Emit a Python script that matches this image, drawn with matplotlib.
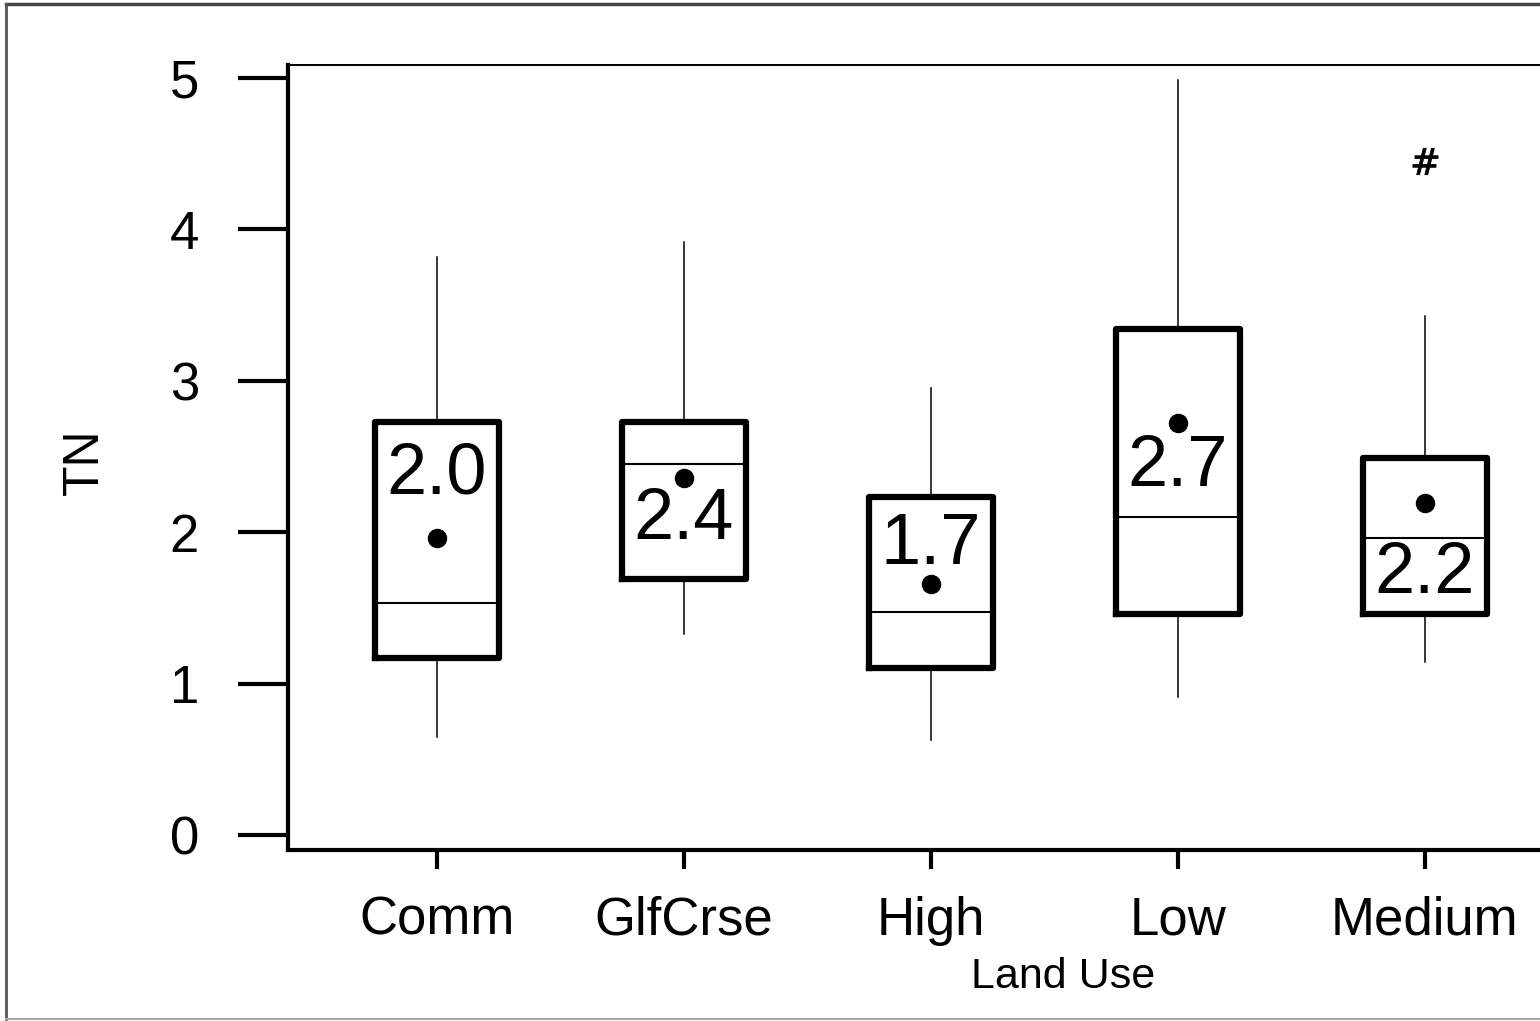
import matplotlib
matplotlib.use('Agg')
import matplotlib.pyplot as plt
from matplotlib.lines import Line2D

plt.rcParams['font.family'] = ['Liberation Sans', 'DejaVu Sans']

# data (TN by land use)
land_use = ['Comm', 'GlfCrse', 'High', 'Low', 'Medium']
q1 = [1.17, 1.69, 1.10, 1.46, 1.46]
median = [1.53, 2.45, 1.47, 2.10, 1.96]
q3 = [2.73, 2.73, 2.23, 3.34, 2.49]
whis_lo = [0.65, 1.33, 0.63, 0.91, 1.14]
whis_hi = [3.82, 3.92, 2.95, 4.99, 3.43]
means = [1.96, 2.36, 1.66, 2.72, 2.19]
outliers = [[], [], [], [], [4.45]]
mean_labels = ['2.0', '2.4', '1.7', '2.7', '2.2']
label_y = [2.38, 2.08, 1.91, 2.43, 1.72]

fig = plt.figure(figsize=(15.4, 10.21), dpi=100)
ax = fig.add_axes([288 / 1540, 1 - 850 / 1021, (1573 - 288) / 1540, (850 - 65) / 1021])

stats = []
for i in range(len(land_use)):
    stats.append(dict(med=median[i], q1=q1[i], q3=q3[i], whislo=whis_lo[i],
                      whishi=whis_hi[i], fliers=outliers[i], mean=means[i]))

pos = list(range(1, len(land_use) + 1))
ax.bxp(stats, positions=pos, widths=0.5, showcaps=False, showmeans=True,
       boxprops=dict(linewidth=4.5, color='black'),
       medianprops=dict(linewidth=1.5, color='black'),
       whiskerprops=dict(linewidth=1.1, color='black'),
       meanprops=dict(marker='o', markerfacecolor='black', markeredgecolor='black',
                      markersize=13),
       flierprops=dict(marker='$\\#$', markerfacecolor='black', markeredgecolor='black',
                       markersize=19, markeredgewidth=0.6))

for p, lab, y in zip(pos, mean_labels, label_y):
    ax.text(p, y, lab, ha='center', va='center', fontsize=52, color='black')

ax.set_xlim(0.397, 5.6)
ax.set_ylim(-0.099, 5.086)
ax.set_yticks([0, 1, 2, 3, 4, 5])
ax.set_xticks(pos)
ax.set_xticklabels(land_use)

ax.spines['right'].set_visible(False)
ax.spines['top'].set_linewidth(1.4)
ax.spines['left'].set_linewidth(3)
ax.spines['bottom'].set_linewidth(3)

ax.tick_params(axis='y', direction='out', length=36, width=3, pad=28, labelsize=38)
ax.tick_params(axis='x', direction='out', length=14, width=3, pad=19, labelsize=38)

fig.text(1063 / 1540, 1 - 977 / 1021, 'Land Use', ha='center', va='center', fontsize=31)
fig.text(85 / 1540, 1 - 462 / 1021, 'TN', ha='center', va='center', rotation=90, fontsize=36)

# outer frame like the reference's graph window
fig.add_artist(Line2D([6 / 1540, 1], [1 - 4 / 1021, 1 - 4 / 1021], color='#444444', lw=2.5))
fig.add_artist(Line2D([6 / 1540, 6 / 1540], [1 - 4 / 1021, 1 - 1019 / 1021], color='#555555', lw=2.0))
fig.add_artist(Line2D([6 / 1540, 1], [1 - 1019 / 1021, 1 - 1019 / 1021], color='#aaaaaa', lw=1.5))

fig.savefig('out.png', dpi=100)
